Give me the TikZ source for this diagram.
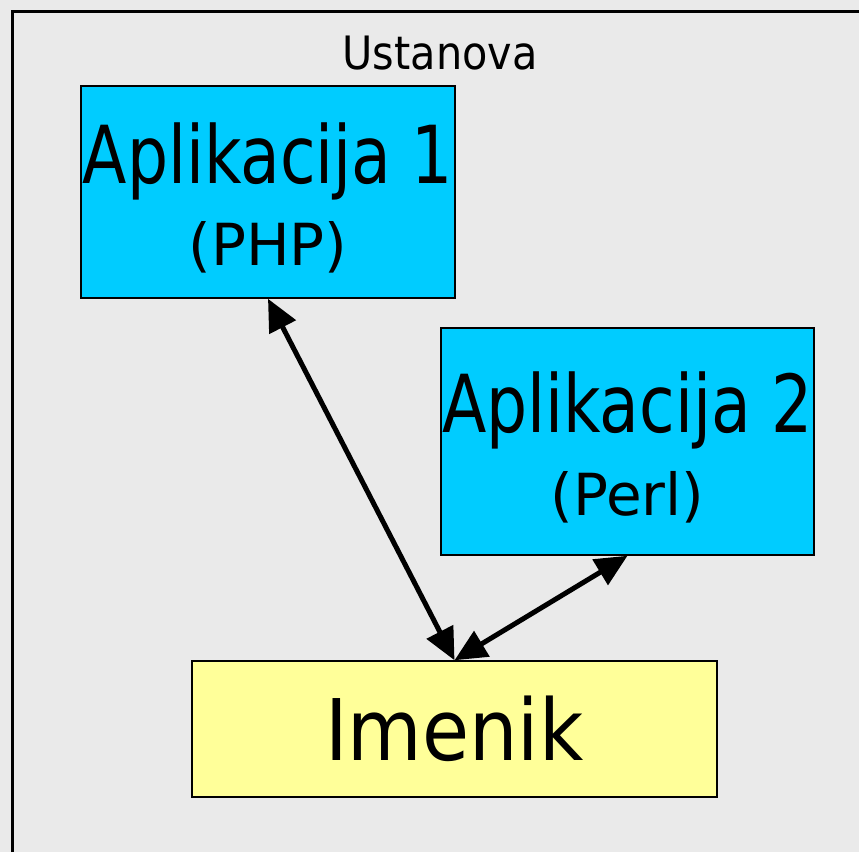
\documentclass[tikz,border=0pt]{standalone}
\usepackage{fontspec}
\setmainfont{DejaVu Sans Condensed}
\newfontfamily\uski[FakeStretch=0.9]{DejaVu Sans Condensed}
\newfontfamily\siri{DejaVu Sans}
\usetikzlibrary{arrows.meta, positioning}
\definecolor{pozadina}{HTML}{EAEAEA}
\definecolor{aplboja}{HTML}{00CCFF}
\definecolor{imenikboja}{HTML}{FFFF99}
\tikzset{
        >={Triangle[length=32pt, width=29pt]}, % big filled arrow heads
        app/.style={draw, line width=1.5pt, fill=aplboja, minimum width=374pt, minimum height=212pt, inner sep=0pt}, % application boxes
        apptekst/.style={align=center, yshift=-6pt}, % text inside the application boxes
        dir/.style={draw, line width=1.5pt, fill=imenikboja, minimum width=525pt, minimum height=136pt, inner sep=0pt}, % directory box
        veza/.style={<->, line width=5pt}, % connectors
    }

\begin{document}
\begin{tikzpicture}[x=1pt, y=-1pt]
    \fill[pozadina] (0,0) rectangle (859,852);
    \useasboundingbox (0,0) rectangle (859,852);
    \draw[line width=3pt] (12,852) -- (12,11) -- (859,11);
    \node (ustanova) at (440,53) {\fontsize{46}{50}\selectfont Ustanova};
    \node[app] (apl1) at (268,192) {};
    \node[apptekst] (apl1tekst) at (apl1.center) {\uski\fontsize{80}{86}\selectfont Aplikacija 1\\[21pt]\siri\fontsize{58}{60}\selectfont (PHP)};
    \node[app, minimum width=373pt, minimum height=227pt] (apl2) at (627.5,441.5) {};
    \node[apptekst] (apl2tekst) at (apl2.center) {\uski\fontsize{80}{86}\selectfont Aplikacija 2\\[21pt]\siri\fontsize{58}{60}\selectfont (Perl)};
    \node[dir] (imenik) at (454.5,729) {\fontsize{85}{90}\selectfont Imenik};
    \draw[veza] (apl1.south) -- (imenik.north);
    \draw[veza] (apl2.south) -- (imenik.north);
\end{tikzpicture}
\end{document}
